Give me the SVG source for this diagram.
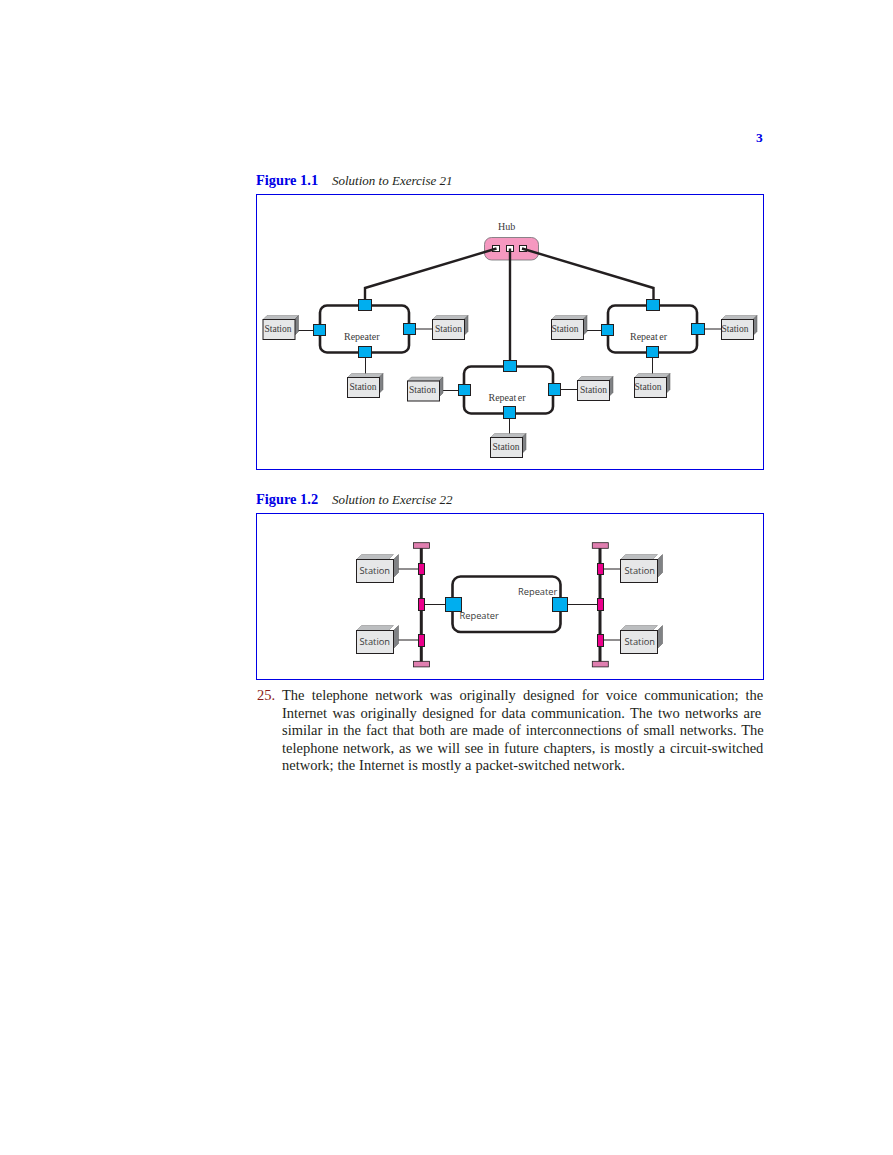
<svg xmlns="http://www.w3.org/2000/svg" width="893" height="1155" viewBox="0 0 893 1155">
<style>
text{font-family:"Liberation Serif","Times New Roman",serif;fill:#231f20}
.frame{fill:none;stroke:#0000e6;stroke-width:1}
.head{font-weight:bold;font-size:14.400px;fill:#0000e6}
.cap{font-style:italic;font-size:13px}
.lab{font-size:10px;fill:#3a3a3a}
.sta{font-size:9.500px;fill:#3a3a3a}
.lab2{font-family:"Open Sans","Noto Sans",sans-serif;font-size:9.300px;fill:#3a3a3a}
.rep{fill:#fff;stroke:#231f20;stroke-width:2.600}
.blue{fill:#00aeef;stroke:#231f20;stroke-width:1}
.mag{fill:#ec008c;stroke:#231f20;stroke-width:1}
.cap2{fill:#e07fb0;stroke:#231f20;stroke-width:.8}
.thick{fill:none;stroke:#231f20;stroke-width:2.400}
.thin{fill:none;stroke:#231f20;stroke-width:1}
.body{font-size:14.500px}
.front{fill:#e6e7e8;stroke:#231f20;stroke-width:1}
.top{fill:#bcbec0;stroke:#808080;stroke-width:.5}
.side{fill:#808285;stroke:#555;stroke-width:.5}
</style>
<defs>
<g id="st1">
<path class="top" d="M0 0l4-4h31.500l-4 4z"/><path class="side" d="M31.500 0l4-4v16l-4 4z"/><rect class="front" width="32" height="20"/>
</g>
<g id="st2">
<path class="top" d="M0 0l5-5h32l-5 5z"/><path class="side" d="M37 0l5-5v18l-5 5z"/><rect class="front" width="37" height="23"/>
</g>
</defs>

<text x="756" y="142" style="font-weight:bold;font-size:13.500px;fill:#0000e6">3</text>
<text class="head" x="256" y="185">Figure 1.1</text>
<text class="cap" x="332" y="185">Solution to Exercise 21</text>
<rect class="frame" x="256.500" y="194.500" width="507" height="275"/>
<text class="head" x="256" y="504">Figure 1.2</text>
<text class="cap" x="332" y="504">Solution to Exercise 22</text>
<rect class="frame" x="256.500" y="513.500" width="507" height="166"/>

<g id="hub">
<rect x="484.500" y="237.500" width="54" height="22.500" rx="7" fill="#f598c0" stroke="#6d6e71" stroke-width=".8"/>
<g fill="#fff" stroke="#231f20" stroke-width="1"><rect x="492.500" y="245.500" width="7" height="6"/><rect x="506.500" y="245.500" width="7" height="6"/><rect x="519.500" y="245.500" width="7" height="6"/></g>
<text class="lab" x="498" y="230">Hub</text>
</g>

<g id="connectors">
<path class="thick" d="M496.500 248.500L365 288V300M510 248.500V361M522 248.500L653.500 288V300"/>
<path class="thin" d="M295 330.500H314M415 329H433M365.500 357V378M582 330.500H602M704 329H722M652.500 357V378M439 390.500H459M560 389.500H578M509.500 418V438"/>
<path class="thin" d="M393 569H418M393 640H418M424 604.500H446M567 604.500H597M603 569H620M603 640H620"/>
<path fill="none" stroke="#231f20" stroke-width="3" d="M421.300 548V662M600 548V662"/>
</g>

<g id="repeater-left">
<rect class="rep" x="320" y="305.500" width="89" height="47" rx="7"/>
<rect class="blue" x="358.500" y="299.500" width="13" height="11"/><rect class="blue" x="313.500" y="324.500" width="12" height="11"/><rect class="blue" x="403.500" y="323.500" width="12" height="11"/><rect class="blue" x="358.500" y="346.500" width="13" height="11"/>
<text class="lab" x="344" y="340">Repeater</text>
</g>
<g id="repeater-mid">
<rect class="rep" x="464" y="366.500" width="89" height="47" rx="7"/>
<rect class="blue" x="503.500" y="360.500" width="13" height="11"/><rect class="blue" x="458.500" y="384.500" width="12" height="11"/><rect class="blue" x="548.500" y="383.500" width="12" height="12"/><rect class="blue" x="503.500" y="406.500" width="12" height="12"/>
<text class="lab" x="488.500" y="401">Repeat<tspan dx="1.500">er</tspan></text>
</g>
<g id="repeater-right">
<rect class="rep" x="608" y="305.500" width="89" height="47" rx="7"/>
<rect class="blue" x="646.500" y="299.500" width="13" height="11"/><rect class="blue" x="601.500" y="324.500" width="12" height="11"/><rect class="blue" x="691.500" y="323.500" width="13" height="11"/><rect class="blue" x="646.500" y="346.500" width="12" height="11"/>
<text class="lab" x="630" y="340">Repeat<tspan dx="1.500">er</tspan></text>
</g>

<g id="st-a" transform="translate(263 319.500)"><use href="#st1"/><text class="sta" x="1.500" y="12.500">Station</text></g>
<g id="st-b" transform="translate(432.500 319.500)"><use href="#st1"/><text class="sta" x="2.500" y="12.500">Station</text></g>
<g id="st-c" transform="translate(347.500 377.500)"><use href="#st1"/><text class="sta" x="2" y="12.500">Station</text></g>
<g id="st-d" transform="translate(407.500 381)"><use href="#st1"/><text class="sta" x="1.500" y="11.500">Station</text></g>
<g id="st-e" transform="translate(577.500 380.500)"><use href="#st1"/><text class="sta" x="2.500" y="12">Station</text></g>
<g id="st-f" transform="translate(490.500 437.500)"><use href="#st1"/><text class="sta" x="2" y="12.500">Station</text></g>
<g id="st-g" transform="translate(551.500 319.500)"><use href="#st1"/><text class="sta" x="0" y="12.500">Station</text></g>
<g id="st-h" transform="translate(721.500 319.500)"><use href="#st1"/><text class="sta" x="0" y="12.500">Station</text></g>
<g id="st-i" transform="translate(634.500 377.500)"><use href="#st1"/><text class="sta" x="0" y="12.500">Station</text></g>

<g id="bus-left">
<rect class="cap2" x="413.500" y="542.700" width="16" height="5.600"/><rect class="cap2" x="413.500" y="661.300" width="16" height="5.600"/>
<rect class="mag" x="418.500" y="563.500" width="6" height="11"/><rect class="mag" x="418.500" y="598.500" width="6" height="12"/><rect class="mag" x="418.500" y="634.500" width="6" height="12"/>
</g>
<g id="bus-right">
<rect class="cap2" x="592.300" y="542.700" width="16" height="5.600"/><rect class="cap2" x="592.300" y="661.300" width="16" height="5.600"/>
<rect class="mag" x="597.500" y="563.500" width="6" height="11"/><rect class="mag" x="597.500" y="598.500" width="6" height="12"/><rect class="mag" x="597.500" y="634.500" width="6" height="12"/>
</g>
<g id="repeater-2">
<rect class="rep" x="452.500" y="576.500" width="108" height="55.500" rx="8"/>
<rect class="blue" x="445.500" y="597.500" width="16" height="14"/><rect class="blue" x="552.500" y="597.500" width="15" height="14"/>
<text class="lab2" x="459.500" y="619">Repeater</text>
<text class="lab2" x="518" y="595">Repeater</text>
</g>
<g id="st2-a" transform="translate(356.500 559.500)"><use href="#st2"/><text class="lab2" x="3" y="14.500">Station</text></g>
<g id="st2-b" transform="translate(356.500 630.500)"><use href="#st2"/><text class="lab2" x="3" y="14.500">Station</text></g>
<g id="st2-c" transform="translate(620.500 559.500)"><use href="#st2"/><text class="lab2" x="4" y="14.500">Station</text></g>
<g id="st2-d" transform="translate(620.500 630.500)"><use href="#st2"/><text class="lab2" x="4" y="14.500">Station</text></g>

<text class="body" x="257" y="700" style="fill:#8b1a1a">25.</text>
<text class="body" x="282" y="700" word-spacing="3.500">The telephone network was originally designed for voice communication; the</text>
<text class="body" x="282" y="718" word-spacing="1.770">Internet was originally designed for data communication. The two networks are</text>
<text class="body" x="282" y="735" word-spacing="1.270">similar in the fact that both are made of interconnections of small networks. The</text>
<text class="body" x="282" y="753" word-spacing="1.120">telephone network, as we will see in future chapters, is mostly a circuit-switched</text>
<text class="body" x="282" y="770" word-spacing=".3">network; the Internet is mostly a packet-switched network.</text>
</svg>
